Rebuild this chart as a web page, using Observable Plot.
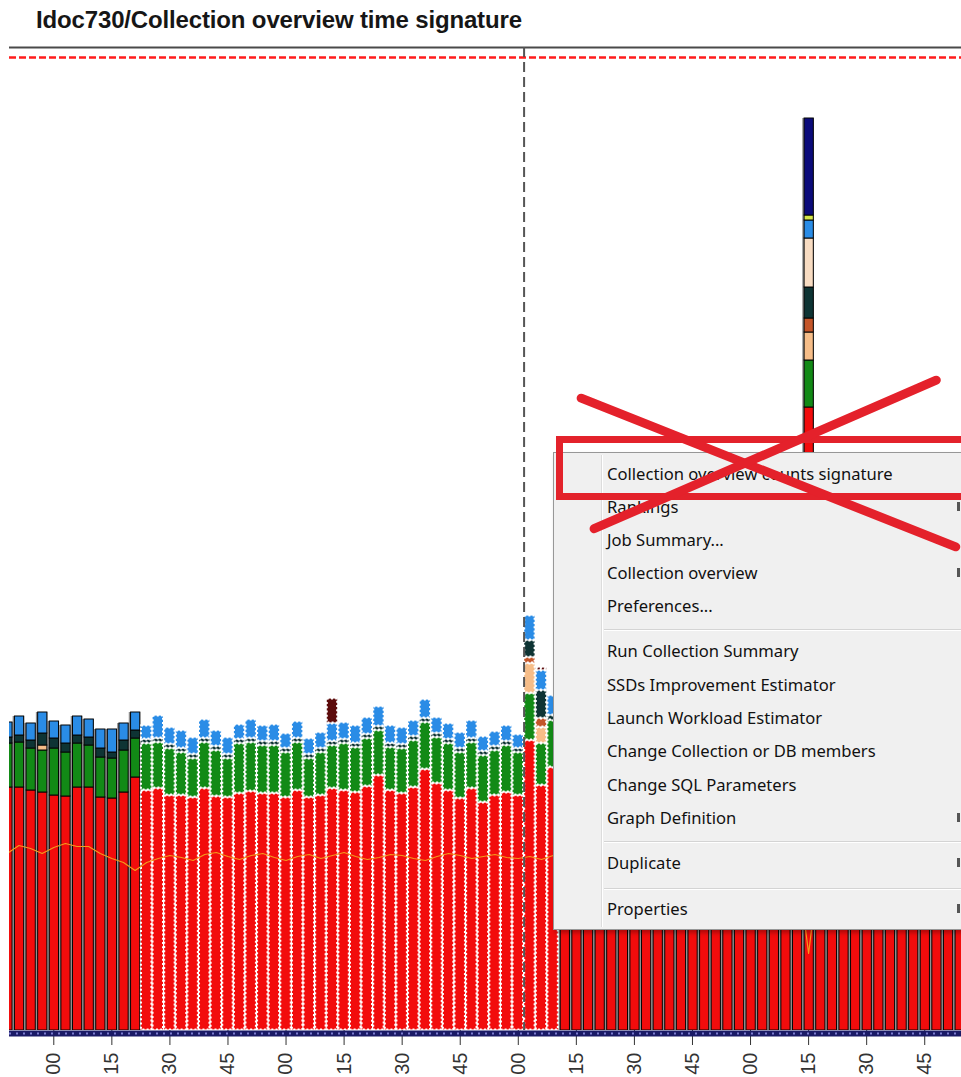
<!DOCTYPE html>
<html>
<head>
<meta charset="utf-8">
<script src="https://cdn.jsdelivr.net/npm/d3@7"></script>
<script src="https://cdn.jsdelivr.net/npm/@observablehq/plot@0.6"></script>
<style>
html,body{margin:0;padding:0;background:#fff;overflow:hidden;}
#page{position:relative;width:961px;height:1077px;overflow:hidden;background:#fff;}
#title{position:absolute;left:36px;top:8px;font:bold 24px "Liberation Sans",Arial,sans-serif;line-height:24px;color:#161616;letter-spacing:-0.15px;white-space:nowrap;}
#chart{position:absolute;left:0;top:40px;}
#menu{position:absolute;left:553px;top:452px;width:440px;height:476px;background:#f0f0f0;border:1px solid #979797;box-shadow:2px 3px 4px rgba(0,0,0,.28);font-family:"Noto Sans","Open Sans",sans-serif;font-size:16.6px;color:#111;}
#menu .gutter{position:absolute;left:47px;top:2px;bottom:2px;width:1px;background:#dcdcdc;border-right:1px solid #fff;}
#menu .item{position:absolute;left:53px;height:24px;line-height:24px;white-space:nowrap;margin-top:-12px;}
#menu .sep{position:absolute;left:50px;right:0;height:1px;background:#d4d4d4;border-bottom:1px solid #fff;}
#menu .arrow{position:absolute;left:403px;width:3px;height:9px;margin-top:-5px;background:#555;}
#redbox{position:absolute;left:556px;top:436px;width:430px;height:64px;border:7px solid #e3222b;box-sizing:border-box;}
.xline{position:absolute;height:9px;background:#e4212b;border-radius:4.5px;transform-origin:0 50%;}
</style>
</head>
<body>
<div id="page">
  <div id="title">Idoc730/Collection overview time signature</div>
  <div id="chart"></div>
  <div id="menu"></div>
  <div id="redbox"></div>
  <div class="xline" style="left:577px;top:391.5px;width:412px;transform:rotate(21.65deg);"></div>
  <div class="xline" style="left:590px;top:525.5px;width:382px;transform:rotate(-23.47deg);"></div>
</div>
<script>
// ---- time axis (minutes relative to the first labelled quarter hour), 3-minute samples
const times = d3.range(-12, 235, 3); // 83 samples
const tickMinutes = [0, 15, 30, 45, 60, 75, 90, 105, 120, 135, 150, 165, 180, 195, 210, 225];
const tickLabels  = ["00","15","30","45","00","15","30","45","00","15","30","45","00","15","30","45"];
const highlightStart = 24, highlightEnd = 129;   // selected (dotted) interval
const markerTime = 121.5;                          // dashed vertical marker
const limitValue = 973;                            // red dashed threshold
const yMax = 983;

// ---- stacked series (bottom -> top)
const red = [
  243,243,240,238,235,234,243,243,233,232,238,253,
  240,242,235,235,233,242,234,233,237,239,237,237,233,240,233,235,242,240,238,244,255,240,237,243,261,247,240,232,242,228,235,238,235,290,245,263,
  250,246,252,248,244,250,255,247,243,249,252,246,250,253,248,245,251,247,249,252,248,623,246,250,244,249,253,247,245,250,252,248,246,251,249
];
const green = [
  44,45,42,42,47,44,44,42,40,40,42,39,
  47,46,47,43,39,46,46,39,50,49,48,48,45,48,39,43,43,47,45,48,45,43,45,47,47,46,47,46,46,47,45,47,43,47,42,47,
  46,44,47,45,43,46,48,44,42,45,47,44,46,48,45,43,46,44,45,47,45,47,44,46,43,45,48,44,43,46,47,45,44,46,45
];
const peach  = [[-3, 5], [123, 30], [126, 16], [195, 28]];
const orange = [[123, 6], [126, 9], [195, 14]];
const darkTeal = [
  6,7,8,12,10,9,8,8,9,6,10,8,
  4,4,4,4,4,4,4,4,4,4,4,4,4,4,4,4,4,4,4,4,4,4,4,4,4,4,4,4,4,4,4,4,4,17,28,5,
  5,5,5,5,5,5,5,5,5,5,5,5,5,5,5,5,5,5,5,5,5,31,5,5,5,5,5,5,5,5,5,5,5,5,5
];
const bisque = [[195, 49]];
const blue = [
  15,19,17,21,17,18,19,18,19,23,17,18,
  14,23,17,18,17,19,16,17,15,19,16,17,15,17,16,16,18,17,18,17,20,18,17,16,19,16,16,16,18,15,15,16,14,25,20,20,
  17,16,18,17,16,18,17,17,16,18,17,16,18,17,17,16,18,17,16,17,18,18,17,16,18,17,16,17,18,17,16,17,18,17,16
];
const lime   = [[195, 5]];
const navy   = [[195, 97]];
const maroon = [[72, 25], [126, 3]];
// thin orange line series
const orangeLine = [
  177,185,182,177,183,187,184,184,177,172,168,160,
  168,172,175,173,170,176,178,174,171,175,177,173,170,174,176,172,175,178,174,171,173,176,175,172,170,174,177,175,172,174,176,173,172,174,171,175,
  173,170,175,172,168,174,176,171,169,173,175,170,172,174,171,168,173,175,170,172,169,77,171,174,170,173,175,171,169,172,174,170,173,171,172
];

const series = [
  ["red", red, "#f20c0c"], ["green", green, "#128a16"], ["peach", peach, "#f6bd88"],
  ["orange", orange, "#c4562a"], ["darkTeal", darkTeal, "#0e3434"], ["bisque", bisque, "#f8dcc2"],
  ["blue", blue, "#2a8ce6"], ["lime", lime, "#d4e64a"], ["navy", navy, "#0b0b7a"], ["maroon", maroon, "#5c0b0b"]
];

function valueAt(arr, i, t) {
  if (arr.length && Array.isArray(arr[0])) { const p = arr.find(d => d[0] === t); return p ? p[1] : 0; }
  return arr[i] || 0;
}
const segs = [], totals = [];
times.forEach((t, i) => {
  const zone = (t >= highlightStart && t <= highlightEnd) ? "dotted" : "solid";
  let base = 0;
  for (const [name, arr, color] of series) {
    const v = valueAt(arr, i, t);
    if (v > 0) { segs.push({t, x1: t - 1.5, x2: t + 1.5, y1: base, y2: base + v, color, zone}); base += v; }
  }
  totals.push({t, x1: t - 1.5, x2: t + 1.5, total: base, zone});
});
const linePts = times.map((t, i) => ({t, v: orangeLine[i]}));
const labelMap = new Map(tickMinutes.map((m, i) => [m, tickLabels[i]]));

const chart = Plot.plot({
  width: 961, height: 1037,
  marginTop: 7, marginLeft: 9, marginRight: 0, marginBottom: 47,
  x: {type: "linear", domain: [-11.44, 234.5], axis: null},
  y: {domain: [0, yMax], axis: null},
  color: {type: "identity"},
  style: {fontFamily: "'Liberation Sans', Arial, sans-serif", fontSize: "19px", background: "transparent", color: "#222", overflow: "visible"},
  marks: [
    Plot.axisX(tickMinutes, {tickFormat: d => labelMap.get(d), tickRotate: -90, tickSize: 15, tickPadding: 7, fontSize: 20, color: "#333"}),
    Plot.rect(totals.filter(d => d.zone === "solid"), {x1: "x1", x2: "x2", y1: 0, y2: "total", fill: "#8e8e8e", clip: true}),
    Plot.rect(segs.filter(d => d.zone === "solid"), {x1: "x1", x2: "x2", y1: "y1", y2: "y2", fill: "color", insetLeft: 1.8, insetRight: 0.6, stroke: "#050505", strokeWidth: 1, clip: true}),
    Plot.rect(segs.filter(d => d.zone === "dotted"), {x1: "x1", x2: "x2", y1: "y1", y2: "y2", fill: "color", inset: 0.6, stroke: "#ffffff", strokeWidth: 2, strokeDasharray: "2,2.2", clip: true}),
    Plot.line(linePts, {x: "t", y: "v", stroke: "#f39a1c", strokeWidth: 1.2, clip: true}),
    Plot.ruleY([0], {stroke: "#1a1a66", strokeWidth: 6, dy: 3}),
    Plot.ruleY([0], {stroke: "#7c7cd0", strokeWidth: 2, strokeDasharray: "2,5", dy: 3}),
    Plot.ruleY([yMax], {stroke: "#4a4a4a", strokeWidth: 2}),
    Plot.ruleY([limitValue], {stroke: "#ff1c1c", strokeWidth: 2.5, strokeDasharray: "7,3"}),
    Plot.ruleX([markerTime], {stroke: "#555", strokeWidth: 2, strokeDasharray: "10,5"})
  ]
});
document.getElementById("chart").appendChild(chart);

// ---- context menu overlay
const menuItems = [
  ["Collection overview counts signature", 21, false], ["Rankings", 54, true], ["Job Summary...", 87, false],
  ["Collection overview", 120, true], ["Preferences...", 153, false], ["Run Collection Summary", 198, false],
  ["SSDs Improvement Estimator", 232, false], ["Launch Workload Estimator", 265, false],
  ["Change Collection or DB members", 298, false], ["Change SQL Parameters", 332, false],
  ["Graph Definition", 365, true], ["Duplicate", 410, true], ["Properties", 456, true]
];
const menuSeps = [176, 388, 435];
const menu = document.getElementById("menu");
const g = document.createElement("div"); g.className = "gutter"; menu.appendChild(g);
for (const [label, y, sub] of menuItems) {
  const d = document.createElement("div"); d.className = "item"; d.style.top = y + "px"; d.textContent = label; menu.appendChild(d);
  if (sub) { const a = document.createElement("div"); a.className = "arrow"; a.style.top = y + "px"; menu.appendChild(a); }
}
for (const y of menuSeps) { const s = document.createElement("div"); s.className = "sep"; s.style.top = y + "px"; menu.appendChild(s); }
</script>
</body>
</html>
